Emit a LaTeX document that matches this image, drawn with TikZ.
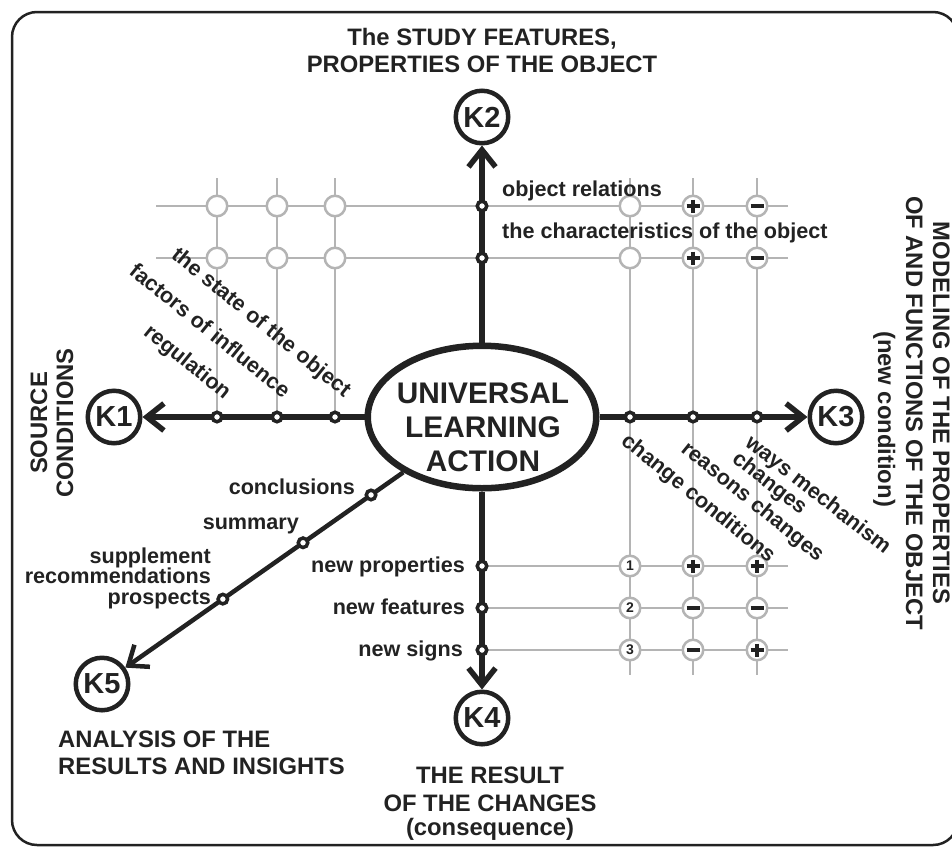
\documentclass[tikz,border=0pt]{standalone}
\usepackage{fontspec}
\setmainfont{Liberation Sans}
\usetikzlibrary{shapes.geometric,arrows.meta,calc}
\definecolor{ink}{HTML}{222222}
\definecolor{gridgray}{HTML}{B4B4B4}
\tikzset{
  lbl/.style={font=\bfseries\fontsize{21.6}{21.6}\selectfont, text=ink, inner sep=0},
  ttl/.style={font=\bfseries\fontsize{23.8}{27}\selectfont, text=ink, inner sep=0},
  big/.style={font=\bfseries\fontsize{29.8}{34}\selectfont, text=ink, inner sep=0},
  knode/.style={circle, draw=ink, line width=4.5pt, fill=white, minimum size=52.5pt, inner sep=0, text=ink, font=\bfseries\fontsize{29}{29}\selectfont},
  core/.style={ellipse, draw=ink, line width=6.5pt, fill=white, minimum width=228.5pt, minimum height=142.5pt, inner sep=0},
  axisline/.style={draw=ink, line width=5.5pt},
  diagline/.style={draw=ink, line width=4.5pt},
  arrowtip/.style={-{Straight Barb[length=17pt,width=27pt]}},
  gline/.style={draw=gridgray, line width=2.5pt},
  gcirc/.style={circle, draw=gridgray, line width=2.5pt, fill=white, minimum size=20.5pt, inner sep=0, text=ink, font=\bfseries\fontsize{14}{14}\selectfont},
  marker/.style={circle, draw=ink, line width=3.5pt, fill=white, minimum size=9.5pt, inner sep=0},
  sgn/.style={draw=ink, line width=3.3pt},
  pics/psign/.style={code={\draw[sgn] (-6.5,0) -- (6.5,0) (0,-6.5) -- (0,6.5);}},
  pics/msign/.style={code={\draw[sgn] (-6.5,0) -- (6.5,0);}},
}
\begin{document}
\begin{tikzpicture}[x=1pt,y=-1pt]
\useasboundingbox (0,0) rectangle (952,847);
\draw[ink, line width=2.5pt, rounded corners=25pt] (12,12) rectangle (958,845);

% grid lines
\foreach \y in {206,258} \draw[gline] (156,\y) -- (788,\y);
\foreach \y in {566,608,650} \draw[gline] (482,\y) -- (788,\y);
\foreach \x in {217,277,335} \draw[gline] (\x,178) -- (\x,417);
\foreach \x in {630,693,757} \draw[gline] (\x,178) -- (\x,675);

% grid circles
\foreach \x in {217,277,335,630,693,757} \foreach \y in {206,258} \node[gcirc] (g\x-\y) at (\x,\y) {};
\foreach \y/\n in {566/1,608/2,650/3} \node[gcirc] (g630-\y) at (630,\y) {\n};
\foreach \x in {693,757} \foreach \y in {566,608,650} \node[gcirc] (g\x-\y) at (\x,\y) {};
\pic at (693,206) {psign};
\pic at (693,258) {psign};
\pic at (757,206) {msign};
\pic at (757,258) {msign};
\pic at (693,566) {psign};
\pic at (693,608) {msign};
\pic at (693,650) {msign};
\pic at (757,566) {psign};
\pic at (757,608) {msign};
\pic at (757,650) {psign};

% main nodes
\node[core] (ula) at (482,417) {};
\node[knode] (K1) at (114,417) {K1};
\node[knode] (K2) at (482,117) {K2};
\node[knode] (K3) at (836,417) {K3};
\node[knode] (K4) at (482,718) {K4};
\node[knode] (K5) at (102,684) {K5};

% connectors
\draw[axisline, arrowtip] (ula) -- (K1);
\draw[axisline, arrowtip] (ula) -- (K2);
\draw[axisline, arrowtip] (ula) -- (K3);
\draw[axisline, arrowtip] (ula) -- (K4);
\draw[diagline, arrowtip] (ula) -- (K5);

% markers
\node[marker] (m1) at (482,206) {};
\node[marker] (m2) at (482,258) {};
\node[marker] (m3) at (217,417) {};
\node[marker] (m4) at (277,417) {};
\node[marker] (m5) at (335,417) {};
\node[marker] (m6) at (630,417) {};
\node[marker] (m7) at (693,417) {};
\node[marker] (m8) at (757,417) {};
\node[marker] (m9) at (482,566) {};
\node[marker] (m10) at (482,608) {};
\node[marker] (m11) at (482,650) {};
\node[marker] (d1) at ($(ula.center)!0.292!(K5.center)$) {};
\node[marker] (d2) at ($(ula.center)!0.471!(K5.center)$) {};
\node[marker] (d3) at ($(ula.center)!0.682!(K5.center)$) {};

% centre text
\node[big, anchor=base] (t1) at (483,403) {UNIVERSAL};
\node[big, anchor=base] (t2) at (483,437) {LEARNING};
\node[big, anchor=base] (t3) at (483,471) {ACTION};

% labels
\node[lbl, anchor=base west] (l1) at (502,196) {object relations};
\node[lbl, anchor=base west] (l2) at (502,238) {the characteristics of the object};
\node[lbl, anchor=base east] (l3) at (465,572) {new properties};
\node[lbl, anchor=base east] (l4) at (465,614) {new features};
\node[lbl, anchor=base east] (l5) at (463,656) {new signs};
\node[lbl, anchor=base east] (l6) at (355,494) {conclusions};
\node[lbl, anchor=base east] (l7) at (299,529) {summary};
\node[lbl, anchor=base east] (l8) at (211,563) {supplement};
\node[lbl, anchor=base east] (l9) at (211,583) {recommendations};
\node[lbl, anchor=base east] (l10) at (211,604) {prospects};
\node[lbl, rotate=-39, anchor=base east] (r1) at (224,400) {regulation};
\node[lbl, rotate=-39, anchor=base east] (r2) at (283,399) {factors of influence};
\node[lbl, rotate=-39, anchor=base east] (r3) at (344,398) {the state of the object};
\node[lbl, rotate=-39, anchor=base west] (r4) at (620,443) {change conditions};
\node[lbl, rotate=-39, anchor=base west] (r5) at (680,451) {reasons changes};
\node[lbl, rotate=-38, anchor=base west] (r6) at (744,445) {ways mechanism};
\node[lbl, rotate=-38, anchor=base west] (r7) at (731,461) {changes};

% titles
\node[ttl, anchor=base] (h1) at (482,45) {The STUDY FEATURES,};
\node[ttl, anchor=base] (h2) at (482,72) {PROPERTIES OF THE OBJECT};
\node[ttl, rotate=90, anchor=base] (s1) at (47,423) {SOURCE};
\node[ttl, rotate=90, anchor=base] (s2) at (73,423) {CONDITIONS};
\node[ttl, rotate=-90, anchor=base] (v1) at (933,413) {MODELING OF THE PROPERTIES};
\node[ttl, rotate=-90, anchor=base] (v2) at (906,413) {OF AND FUNCTIONS OF THE OBJECT};
\node[ttl, rotate=-90, anchor=base] (v3) at (878,419) {(new condition)};
\node[ttl, anchor=base west] (a1) at (58,747) {ANALYSIS OF THE};
\node[ttl, anchor=base west] (a2) at (58,774) {RESULTS AND INSIGHTS};
\node[ttl, anchor=base] (b1) at (490,783) {THE RESULT};
\node[ttl, anchor=base] (b2) at (490,811) {OF THE CHANGES};
\node[ttl, anchor=base] (b3) at (490,835) {(consequence)};
\end{tikzpicture}
\end{document}
